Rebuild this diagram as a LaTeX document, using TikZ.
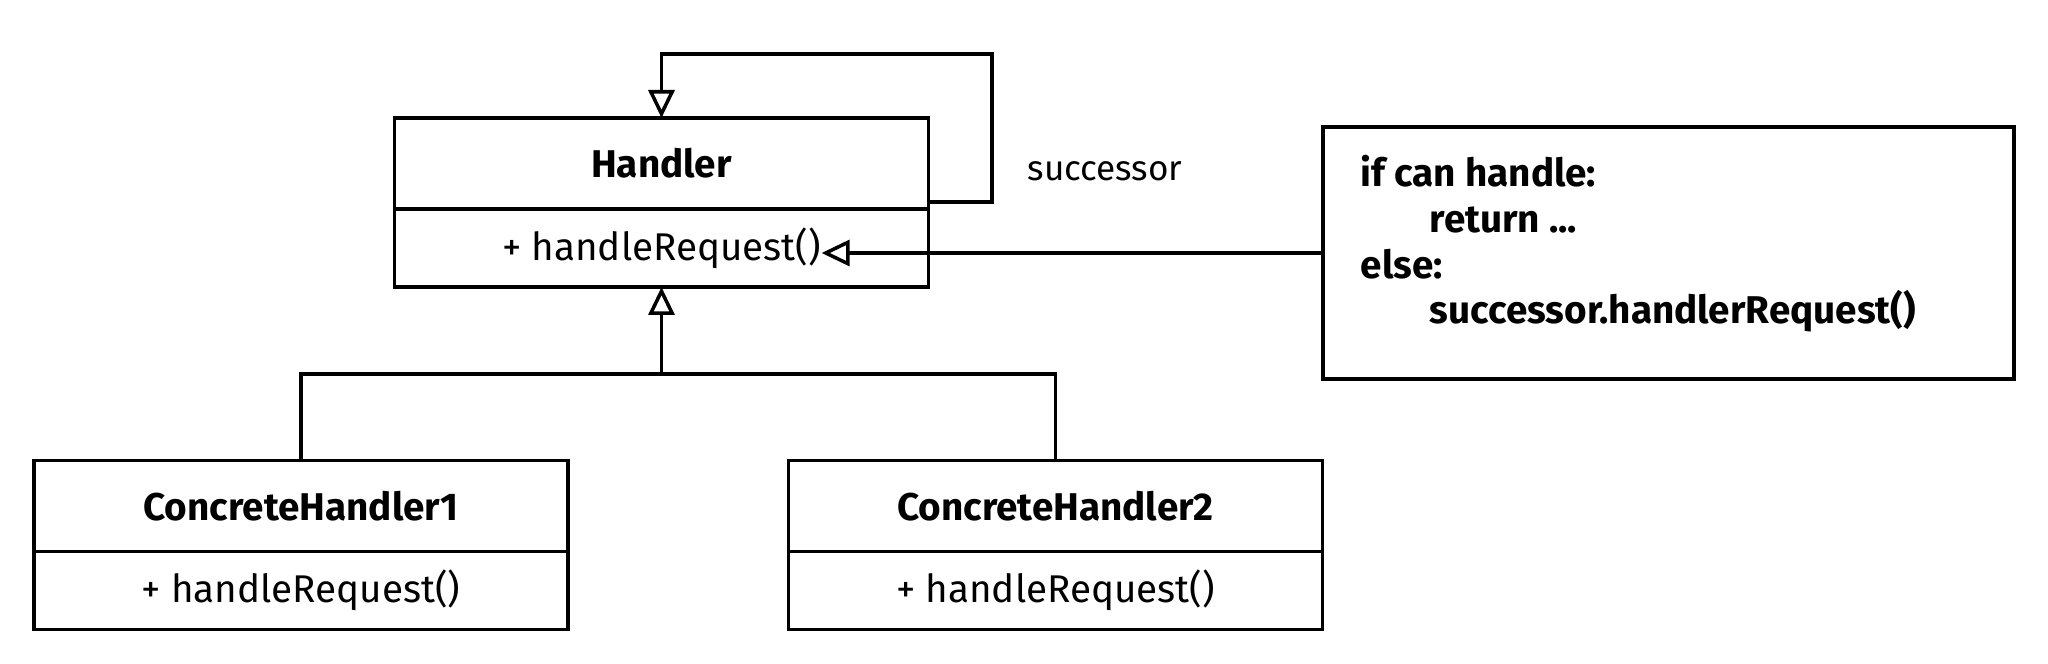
\documentclass[tikz,border=0pt]{standalone}
\usepackage{fontspec}
\setmainfont{Fira Sans}
\usetikzlibrary{arrows.meta,positioning}

\begin{document}
\begin{tikzpicture}[
  box/.style={draw,line width=1pt,inner sep=0pt,outer sep=0pt,minimum width=5.34cm},
  head/.style={box,minimum height=0.91cm,font=\fontsize{11}{13}\selectfont\bfseries},
  body/.style={box,minimum height=0.78cm},
  method/.style={inner sep=0pt,font=\fontsize{11}{13}\selectfont},
  link/.style={line width=1pt},
  tip/.style={link,-{Triangle[open,length=2.8mm,width=2.6mm]}}
]
\useasboundingbox (0,0) rectangle (20.48,6.64);

% Handler
\node[head] (H) at (6.615,5.005) {Handler};
\node[body,below=0pt of H] (Hb) {};
\node[method] (Hm) at (Hb) {+ handleRequest()};

% self loop
\coordinate (loop) at (9.92,6.10);
\draw[tip] ([yshift=0.7mm]H.south east) -| (loop) -| (H.north);
\node[method,font=\fontsize{10}{12}\selectfont] (succ) at (11.05,4.93) {successor};

% note
\node[draw,line width=1pt,minimum width=6.91cm,minimum height=2.52cm] (note) at (16.685,4.11) {};
\node[method,font=\fontsize{11}{13}\selectfont\bfseries,align=left,anchor=west] (code) at (13.60,4.20)
  {if can handle:\\ \hspace*{6.9mm}return ...\\ else:\\ \hspace*{6.9mm}successor.handlerRequest()};
\draw[tip] (note.west) -- (Hm.east |- note.west);

% concrete handlers
\node[head] (C1) at (3.01,1.58) {ConcreteHandler1};
\node[body,below=0pt of C1] (C1b) {};
\node[method] (C1m) at (C1b) {+ handleRequest()};

\node[head] (C2) at (10.555,1.58) {ConcreteHandler2};
\node[body,below=0pt of C2] (C2b) {};
\node[method] (C2m) at (C2b) {+ handleRequest()};

% inheritance
\coordinate (bus) at (Hb.south |- 0,2.90);
\draw[link] (C1.north) |- (bus) -| (C2.north);
\draw[tip] (bus) -- (Hb.south);
\end{tikzpicture}
\end{document}
